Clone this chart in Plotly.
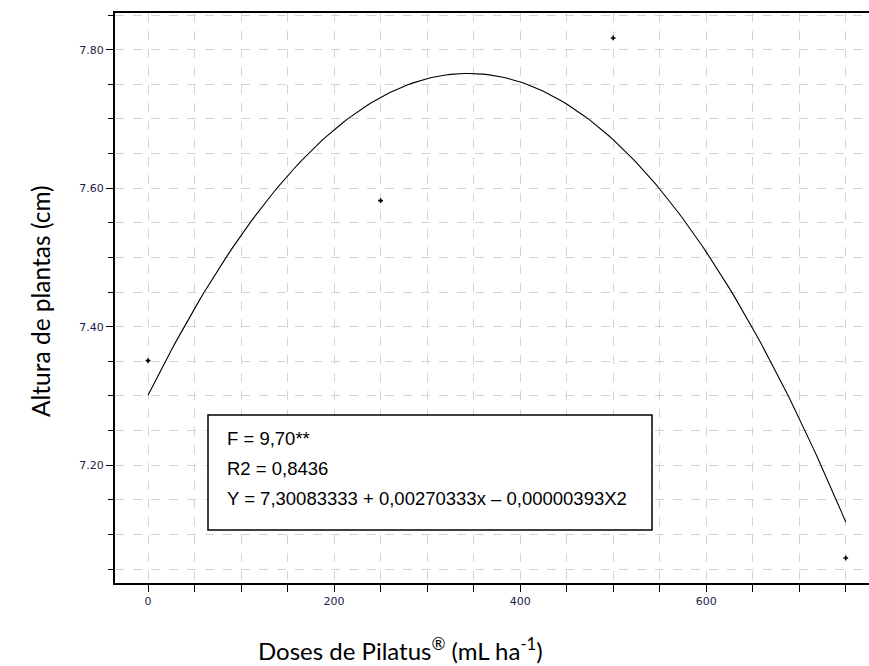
import plotly.graph_objects as go

# Observed data
doses = [0, 250, 500, 750]
altura = [7.351, 7.582, 7.817, 7.066]

# Fitted regression coefficients (from the chart's equation)
b0 = 7.30083333
b1 = 0.00270333
b2 = -0.00000393
curve_x = list(range(0, 751, 5))
curve_y = [b0 + b1 * x + b2 * x * x for x in curve_x]

stats_lines = ["F = 9,70**", "R2 = 0,8436",
               "Y = 7,30083333 + 0,00270333x \u2013 0,00000393X2"]

W, H = 869, 666
L, R, T, B = 115, 0, 13, 83
pw, ph = W - L - R, H - T - B

def px(xp):
    return (xp - L) / pw

def py(yp):
    return (H - B - yp) / ph

fig = go.Figure()
fig.add_trace(go.Scatter(x=curve_x, y=curve_y, mode="lines",
                         line=dict(color="black", width=1.1), showlegend=False))
fig.add_trace(go.Scatter(x=doses, y=altura, mode="markers",
                         marker=dict(symbol="cross", size=4, color="black"),
                         showlegend=False))

grid = dict(gridcolor="#d4d4d4", griddash="dash", gridwidth=1)
tickfont = dict(family="DejaVu Sans", size=11, color="#1c1c4c")

fig.update_xaxes(range=[-35.5, 775], dtick=200, tick0=0, ticks="outside",
                 ticklen=7, tickcolor="black", tickwidth=1,
                 showline=True, linecolor="black", linewidth=2, mirror=True,
                 showgrid=True, **grid, tickfont=tickfont, zeroline=False,
                 minor=dict(dtick=50, tick0=0, ticks="outside", ticklen=7,
                            tickcolor="black", showgrid=True,
                            gridcolor="#d4d4d4", griddash="dash"))
fig.update_yaxes(range=[7.0298, 7.853], dtick=0.2, tick0=7.0, ticks="outside",
                 ticklen=7, tickcolor="black", tickwidth=1, tickformat=".2f",
                 showline=True, linecolor="black", linewidth=2, mirror=False,
                 showgrid=True, **grid, tickfont=tickfont, zeroline=False,
                 minor=dict(dtick=0.05, tick0=7.0, ticks="outside", ticklen=5,
                            tickcolor="black", showgrid=True,
                            gridcolor="#d4d4d4", griddash="dash"))

# Stats box
fig.add_shape(type="rect", xref="paper", yref="paper",
              x0=px(208), x1=px(652), y0=py(530), y1=py(415),
              line=dict(color="black", width=1.5), fillcolor="white", layer="above")
for i, t in enumerate(stats_lines):
    fig.add_annotation(xref="paper", yref="paper", x=px(225), y=py(438 + 30 * i),
                       xanchor="left", yanchor="middle", showarrow=False, text=t,
                       font=dict(family="Liberation Sans", size=18.5, color="black"))

# Axis titles
fig.add_annotation(xref="paper", yref="paper", x=px(400), y=py(649),
                   xanchor="center", yanchor="middle", showarrow=False,
                   text="Doses de Pilatus<sup>\u00ae</sup> (mL ha<sup>-1</sup>)",
                   font=dict(family="Lato", size=24, color="black"))
fig.add_annotation(xref="paper", yref="paper", x=px(40), y=py(301),
                   xanchor="center", yanchor="middle", showarrow=False,
                   textangle=-90, text="Altura de plantas (cm)",
                   font=dict(family="Lato", size=24.5, color="black"))

fig.update_layout(width=W, height=H, margin=dict(l=L, r=R, t=T, b=B),
                  plot_bgcolor="white", paper_bgcolor="white")
fig.write_html("out.html")
